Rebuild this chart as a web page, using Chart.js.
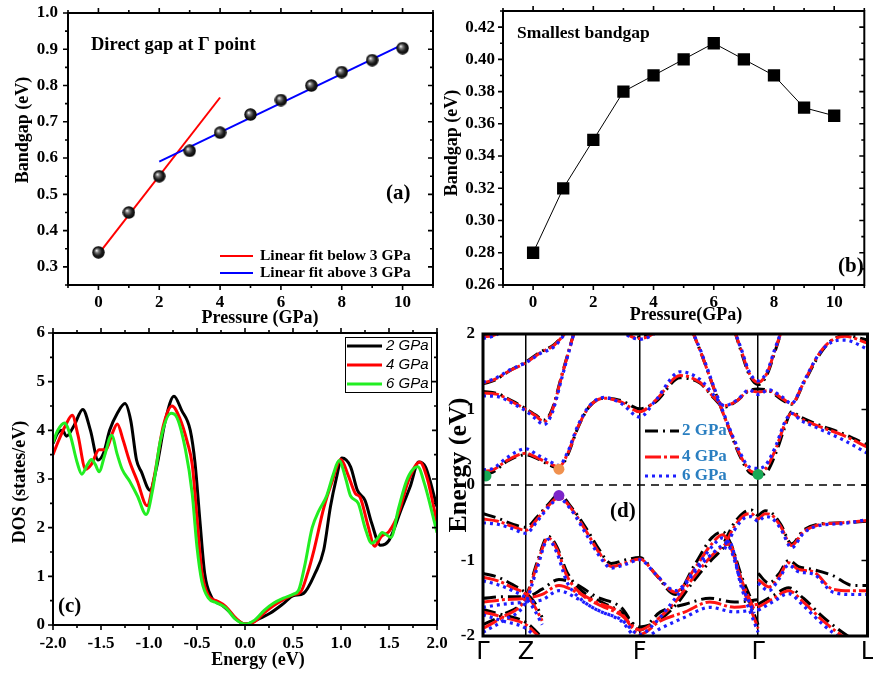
<!DOCTYPE html>
<html>
<head>
<meta charset="utf-8">
<script src="https://cdn.jsdelivr.net/npm/chart.js@4/dist/chart.umd.min.js"></script>
<style>
  html, body { margin: 0; padding: 0; background: #fff; }
  #wrap { position: relative; width: 873px; height: 675px; overflow: hidden; background: #fff; }
  #wrap canvas { position: absolute; left: 0; top: 0; }
</style>
</head>
<body>
<div id="wrap">
  <canvas id="panelA" width="873" height="675"></canvas>
  <canvas id="panelB" width="873" height="675"></canvas>
  <canvas id="panelC" width="873" height="675"></canvas>
  <canvas id="panelD" width="873" height="675"></canvas>
</div>
<script>
const SERIF = '"Liberation Serif", "Times New Roman", serif';
const SANS = '"Liberation Sans", Arial, sans-serif';
const KSANS = '"DejaVu Sans", sans-serif';

// ---- (a) direct gap at Γ versus pressure ----
const pressure = [0, 1, 2, 3, 4, 5, 6, 7, 8, 9, 10];
const directGap = [0.34, 0.45, 0.55, 0.62, 0.67, 0.72, 0.76, 0.80, 0.837, 0.87, 0.903];
const fitBelowP = [0, 4];
const fitBelowGap = [0.335, 0.767];
const fitAboveP = [2, 10];
const fitAboveGap = [0.59, 0.913];
const pressureTicks = [0, 2, 4, 6, 8, 10];
const directGapTicks = [0.3, 0.4, 0.5, 0.6, 0.7, 0.8, 0.9, 1.0];
const fitLabels = ['Linear fit below 3 GPa', 'Linear fit above 3 GPa'];

// ---- (b) smallest gap versus pressure ----
const smallestGap = [0.28, 0.32, 0.35, 0.38, 0.39, 0.40, 0.41, 0.40, 0.39, 0.37, 0.365];
const smallestGapTicks = [0.26, 0.28, 0.30, 0.32, 0.34, 0.36, 0.38, 0.40, 0.42];

// ---- (c) density of states ----
const pressureLabels = ['2 GPa', '4 GPa', '6 GPa'];
const energyTicks = [-2, -1.5, -1, -0.5, 0, 0.5, 1, 1.5, 2];
const dosTicks = [0, 1, 2, 3, 4, 5, 6];
const dosE2 = [-2.00,-1.95,-1.90,-1.86,-1.78,-1.69,-1.61,-1.53,-1.47,-1.41,-1.33,-1.25,-1.19,-1.13,-1.08,-0.99,-0.92,-0.83,-0.74,-0.66,-0.57,-0.52,-0.47,-0.42,-0.35,-0.24,-0.16,-0.08,0.00,0.08,0.16,0.26,0.40,0.50,0.61,0.73,0.82,0.89,0.95,1.01,1.10,1.17,1.25,1.32,1.41,1.50,1.63,1.72,1.81,1.88,2.00];
const dos2 = [3.73,3.95,4.00,3.88,4.10,4.43,4.00,3.39,3.55,4.00,4.35,4.55,4.20,3.39,3.15,2.77,3.25,4.20,4.70,4.41,4.00,3.32,2.15,1.06,0.58,0.41,0.27,0.10,0.02,0.06,0.14,0.24,0.44,0.60,0.65,1.06,1.54,2.43,3.00,3.43,3.25,2.77,2.56,2.09,1.64,1.74,2.39,2.84,3.35,3.25,2.43];
const dosE4 = [-2.00,-1.95,-1.87,-1.80,-1.74,-1.66,-1.60,-1.52,-1.45,-1.38,-1.33,-1.27,-1.20,-1.12,-1.02,-0.95,-0.85,-0.76,-0.68,-0.60,-0.55,-0.50,-0.45,-0.38,-0.30,-0.20,-0.10,0.00,0.10,0.20,0.30,0.40,0.50,0.58,0.65,0.72,0.82,0.90,1.00,1.07,1.15,1.20,1.28,1.35,1.42,1.50,1.60,1.70,1.82,1.90,2.00];
const dos4 = [3.50,3.75,4.10,4.31,3.90,3.20,3.30,3.60,3.60,3.95,4.13,3.80,3.35,2.95,2.45,3.00,4.10,4.50,4.25,3.75,3.30,2.20,1.10,0.60,0.50,0.38,0.15,0.02,0.07,0.25,0.40,0.52,0.62,0.68,1.05,1.55,2.40,2.90,3.40,3.10,2.70,2.62,2.05,1.62,1.82,1.92,2.30,2.95,3.35,3.00,2.10];
const dosE6 = [-2.00,-1.95,-1.88,-1.82,-1.75,-1.70,-1.64,-1.60,-1.56,-1.52,-1.46,-1.39,-1.33,-1.28,-1.20,-1.12,-1.03,-0.96,-0.88,-0.77,-0.72,-0.62,-0.55,-0.50,-0.45,-0.38,-0.30,-0.20,-0.10,0.00,0.10,0.20,0.30,0.40,0.50,0.56,0.62,0.70,0.77,0.85,0.92,0.98,1.05,1.10,1.18,1.25,1.32,1.38,1.43,1.52,1.60,1.68,1.75,1.80,1.87,1.95,2.00];
const dos6 = [3.75,4.00,4.15,3.90,3.35,3.10,3.30,3.40,3.30,3.15,3.50,3.90,3.50,3.20,2.95,2.65,2.27,2.80,3.80,4.35,4.30,3.60,2.70,1.60,0.90,0.55,0.46,0.35,0.12,0.02,0.10,0.30,0.45,0.55,0.63,0.72,1.20,2.00,2.35,2.65,3.10,3.38,3.00,2.65,2.50,2.00,1.68,1.78,1.90,1.80,2.40,2.95,3.20,3.25,2.90,2.30,1.90];

// ---- (d) band structure along Γ-Z-F-Γ-L (k as path length) ----
const kLabels = ['Γ', 'Z', 'F', 'Γ', 'L'];
const kTicks = [0, 43.5, 159, 279, 390];
const bandEnergyTicks = [-2, -1, 0, 1, 2];
const fermiK = [0, 390];
const fermiE = [0, 0];

const cb1K = [0,10,25,43.5,55,68,77,86,96,108,123,140,159,175,200,220,235,245,258,270,279,290,303,313,325,340,352,367,390];
const cb1At2 = [0.14,0.17,0.32,0.40,0.35,0.26,0.22,0.40,0.75,1.04,1.15,1.12,1.01,1.10,1.42,1.35,1.14,1.03,1.12,1.25,1.27,1.25,1.13,1.07,1.34,1.70,1.90,1.98,1.92];
const cb1At4 = [0.18,0.20,0.33,0.42,0.36,0.28,0.24,0.42,0.76,1.04,1.15,1.10,0.97,1.12,1.45,1.36,1.15,1.05,1.12,1.25,1.23,1.25,1.15,1.08,1.35,1.72,1.90,1.97,1.88];
const cb1At6 = [0.20,0.22,0.37,0.48,0.40,0.31,0.26,0.44,0.78,1.05,1.16,1.08,0.90,1.12,1.50,1.40,1.18,1.05,1.13,1.26,1.20,1.26,1.17,1.08,1.36,1.72,1.88,1.92,1.80];

const cb2K = [212,222,235,248,260,270,279,287,297,306,313,322,340,365,390];
const cb2At2 = [2.05,1.72,1.25,0.80,0.40,0.17,0.13,0.16,0.42,0.76,0.97,0.90,0.80,0.68,0.53];
const cb2At4 = [2.05,1.72,1.25,0.80,0.42,0.20,0.16,0.22,0.48,0.80,0.95,0.88,0.78,0.66,0.50];
const cb2At6 = [2.05,1.74,1.27,0.82,0.45,0.24,0.22,0.27,0.52,0.83,0.95,0.86,0.75,0.60,0.42];

const cb3K = [0,15,30,43.5,53,62,70,80,93];
const cb3At2 = [1.24,1.21,1.11,1.01,0.93,0.86,1.00,1.46,2.05];
const cb3At4 = [1.22,1.20,1.10,1.00,0.92,0.84,0.98,1.45,2.05];
const cb3At6 = [1.18,1.17,1.08,0.98,0.88,0.80,0.95,1.42,2.05];

const cb4K = [0,12,28,43.5,58,72,86];
const cb4At2 = [1.34,1.39,1.52,1.63,1.76,1.86,2.05];
const cb4At4 = [1.35,1.40,1.52,1.62,1.75,1.85,2.05];
const cb4At6 = [1.36,1.41,1.53,1.62,1.74,1.83,2.05];

const cb5K = [0,10,22];
const cb5At2 = [1.97,1.99,2.06];
const cb5At4 = [1.96,1.98,2.05];
const cb5At6 = [1.94,1.97,2.05];

const cb6K = [140,150,159,168,178];
const cb6At2 = [2.06,1.98,1.96,1.98,2.06];
const cb6At4 = [2.05,1.97,1.94,1.97,2.05];
const cb6At6 = [2.04,1.96,1.93,1.96,2.04];

const cb7K = [255,262,270,279,288,296,303];
const cb7At2 = [2.05,1.76,1.46,1.33,1.46,1.76,2.05];
const cb7At4 = [2.05,1.78,1.48,1.36,1.48,1.78,2.05];
const cb7At6 = [2.05,1.80,1.50,1.38,1.50,1.80,2.05];

const vb1K = [0,15,30,43.5,55,66,77,90,105,118,130,145,159,175,195,215,232,243,252,262,275];
const vb1At2 = [-0.38,-0.44,-0.52,-0.56,-0.42,-0.26,-0.13,-0.30,-0.58,-0.86,-1.04,-0.99,-0.96,-1.18,-1.45,-1.05,-0.70,-0.62,-0.80,-1.20,-1.60];
const vb1At4 = [-0.45,-0.48,-0.55,-0.60,-0.45,-0.28,-0.16,-0.32,-0.62,-0.90,-1.08,-1.03,-0.98,-1.18,-1.42,-1.10,-0.78,-0.66,-0.85,-1.25,-1.65];
const vb1At6 = [-0.50,-0.52,-0.58,-0.64,-0.48,-0.30,-0.18,-0.34,-0.66,-0.94,-1.10,-1.05,-0.99,-1.18,-1.40,-1.12,-0.82,-0.70,-0.88,-1.30,-1.70];

const vb2K = [245,255,265,272,279,286,293,302,313,325,340,365,390];
const vb2At2 = [-0.75,-0.50,-0.36,-0.33,-0.40,-0.34,-0.37,-0.52,-0.78,-0.60,-0.52,-0.50,-0.48];
const vb2At4 = [-0.80,-0.55,-0.40,-0.38,-0.45,-0.38,-0.40,-0.55,-0.80,-0.62,-0.53,-0.50,-0.47];
const vb2At6 = [-0.85,-0.60,-0.44,-0.42,-0.48,-0.42,-0.44,-0.58,-0.83,-0.64,-0.54,-0.51,-0.46];

const vb3K = [0,20,43.5,55,66,75,85,100,120,140,159,175,195,215,235,250,262,279];
const vb3At2 = [-1.85,-1.72,-1.48,-1.02,-0.68,-0.82,-1.15,-1.40,-1.55,-1.68,-1.88,-1.82,-1.60,-1.25,-0.95,-0.80,-1.25,-1.85];
const vb3At4 = [-1.90,-1.75,-1.50,-1.05,-0.70,-0.85,-1.20,-1.45,-1.60,-1.72,-1.92,-1.80,-1.55,-1.20,-0.90,-0.78,-1.30,-1.90];
const vb3At6 = [-1.95,-1.80,-1.55,-1.10,-0.72,-0.90,-1.28,-1.52,-1.68,-1.78,-1.98,-1.82,-1.50,-1.15,-0.88,-0.76,-1.35,-1.95];

const vb4K = [0,20,43.5,60,77,95,115,140,159,180,205,230,255,279];
const vb4At2 = [-1.50,-1.48,-1.48,-1.38,-1.25,-1.32,-1.48,-1.62,-1.92,-1.68,-1.58,-1.50,-1.55,-1.52];
const vb4At4 = [-1.55,-1.52,-1.50,-1.45,-1.33,-1.42,-1.55,-1.70,-1.98,-1.80,-1.68,-1.55,-1.62,-1.58];
const vb4At6 = [-1.62,-1.58,-1.55,-1.52,-1.40,-1.50,-1.65,-1.80,-2.05,-1.90,-1.75,-1.62,-1.68,-1.65];

const vb5K = [0,15,30,43.5,52,60];
const vb5At2 = [-1.17,-1.22,-1.32,-1.43,-1.55,-1.75];
const vb5At4 = [-1.22,-1.27,-1.36,-1.45,-1.60,-1.80];
const vb5At6 = [-1.27,-1.32,-1.40,-1.50,-1.65,-1.85];

const vb6K = [279,290,300,310,320,335,355,375,390];
const vb6At2 = [-1.17,-1.30,-1.18,-1.00,-1.08,-1.12,-1.20,-1.33,-1.33];
const vb6At4 = [-1.25,-1.35,-1.22,-1.03,-1.12,-1.15,-1.38,-1.40,-1.40];
const vb6At6 = [-1.30,-1.40,-1.25,-1.06,-1.15,-1.18,-1.42,-1.45,-1.45];

const vb7K = [279,295,310,325,345,370,390];
const vb7At2 = [-1.58,-1.46,-1.36,-1.50,-1.75,-2.00,-2.15];
const vb7At4 = [-1.62,-1.50,-1.40,-1.55,-1.80,-2.05,-2.20];
const vb7At6 = [-1.66,-1.54,-1.44,-1.60,-1.85,-2.10,-2.25];

const vb8K = [0,20,43.5,60];
const vb8At2 = [-1.65,-1.72,-1.82,-2.02];
const vb8At4 = [-1.68,-1.75,-1.85,-2.05];
const vb8At6 = [-1.72,-1.80,-1.90,-2.10];

// band edges marked on the plot
const cbmK = [3, 279];
const cbmE = [0.12, 0.14];
const cbLocalK = [77];
const cbLocalE = [0.21];
const vbmK = [77];
const vbmE = [-0.14];

// ---------- helpers ----------
const pts = (xs, ys) => xs.map((x, i) => ({ x, y: ys[i] }));

function steps(min, max, step) {
  const out = [];
  const n0 = Math.ceil(min / step - 1e-6), n1 = Math.floor(max / step + 1e-6);
  for (let n = n0; n <= n1; n++) out.push(+(n * step).toFixed(6));
  return out;
}

// frame around the plot area plus major/minor tick marks on all four sides
function axisFrame(cfg) {
  return {
    id: 'axisFrame',
    afterDraw(chart) {
      const { ctx, chartArea: a } = chart;
      const x = chart.scales.x, y = chart.scales.y;
      ctx.save();
      ctx.setLineDash([]);
      ctx.globalAlpha = 1;
      ctx.strokeStyle = '#000';
      ctx.lineWidth = cfg.tickWidth;
      const majX = x.ticks.map(t => t.value), majY = y.ticks.map(t => t.value);
      const isMaj = (arr, v) => arr.some(m => Math.abs(m - v) < 1e-6);
      const minX = cfg.xMinor ? steps(x.min, x.max, cfg.xMinor).filter(v => !isMaj(majX, v)) : [];
      const minY = cfg.yMinor ? steps(y.min, y.max, cfg.yMinor).filter(v => !isMaj(majY, v)) : [];
      const mark = (side, vals, len) => {
        const dir = cfg[side];
        if (!dir || !len) return;
        const s = dir === 'out' ? 1 : -1;
        ctx.beginPath();
        vals.forEach(v => {
          if (side === 'left' || side === 'right') {
            const py = y.getPixelForValue(v);
            if (py < a.top - 0.5 || py > a.bottom + 0.5) return;
            const x0 = side === 'left' ? a.left : a.right;
            const d = (side === 'left' ? -1 : 1) * s * len;
            ctx.moveTo(x0, py); ctx.lineTo(x0 + d, py);
          } else {
            const px = x.getPixelForValue(v);
            if (px < a.left - 0.5 || px > a.right + 0.5) return;
            const y0 = side === 'top' ? a.top : a.bottom;
            const d = (side === 'top' ? -1 : 1) * s * len;
            ctx.moveTo(px, y0); ctx.lineTo(px, y0 + d);
          }
        });
        ctx.stroke();
      };
      ['left', 'right'].forEach(sd => { mark(sd, majY, cfg.major); mark(sd, minY, cfg.minor); });
      ['top', 'bottom'].forEach(sd => { mark(sd, majX, cfg.major); mark(sd, minX, cfg.minor); });
      ctx.lineWidth = cfg.lw;
      ctx.strokeRect(a.left, a.top, a.right - a.left, a.bottom - a.top);
      ctx.restore();
    }
  };
}

// free text (axis titles, panel captions)
function notes(items) {
  return {
    id: 'notes',
    afterDraw(chart) {
      const ctx = chart.ctx;
      items.forEach(n => {
        ctx.save();
        ctx.translate(n.x, n.y);
        if (n.rot) ctx.rotate(n.rot * Math.PI / 180);
        ctx.font = n.font;
        ctx.fillStyle = n.color || '#000';
        ctx.textAlign = n.align || 'left';
        ctx.textBaseline = 'middle';
        ctx.fillText(n.text, 0, 0);
        ctx.restore();
      });
    }
  };
}

// line-sample keys
function key(cfg) {
  return {
    id: 'key',
    afterDraw(chart) {
      const ctx = chart.ctx;
      ctx.save();
      if (cfg.box) {
        ctx.strokeStyle = '#000';
        ctx.lineWidth = 1;
        ctx.strokeRect(cfg.box[0], cfg.box[1], cfg.box[2], cfg.box[3]);
      }
      cfg.items.forEach((it, i) => {
        const yy = cfg.ys ? cfg.ys[i] : cfg.y + i * cfg.dy;
        ctx.beginPath();
        ctx.setLineDash(it.dash || []);
        ctx.strokeStyle = it.color;
        ctx.lineWidth = it.width;
        ctx.lineCap = 'butt';
        ctx.moveTo(cfg.x, yy);
        ctx.lineTo(cfg.x + cfg.len, yy);
        ctx.stroke();
        ctx.setLineDash([]);
        ctx.font = cfg.font;
        ctx.fillStyle = cfg.textColor || '#000';
        ctx.textAlign = 'left';
        ctx.textBaseline = 'middle';
        ctx.fillText(it.label, cfg.x + cfg.len + cfg.gap, yy);
      });
      ctx.restore();
    }
  };
}

const tickFont = { family: SERIF, size: 17, weight: 'bold' };

function linScale(o) {
  return {
    type: 'linear',
    min: o.min,
    max: o.max,
    afterBuildTicks: s => { s.ticks = o.ticks.map(v => ({ value: v })); },
    afterFit: s => {
      if (o.width != null) s.width = o.width;
      if (o.height != null) s.height = o.height;
      s.paddingTop = 0; s.paddingBottom = 0; s.paddingLeft = 0; s.paddingRight = 0;
    },
    grid: o.grid || { display: false, drawTicks: false },
    border: { display: false },
    ticks: {
      autoSkip: false, maxRotation: 0, minRotation: 0,
      padding: o.pad, color: '#000',
      font: o.tickFont || tickFont,
      callback: o.fmt
    },
    title: { display: false }
  };
}

const baseOptions = (padding, scales) => ({
  responsive: false,
  animation: false,
  devicePixelRatio: 1,
  layout: { padding },
  scales,
  events: [],
  plugins: { legend: { display: false }, tooltip: { enabled: false } }
});

const titleFont = `bold 18px ${SERIF}`;

// shaded ball marker
function ballSprite(d) {
  const c = document.createElement('canvas');
  c.width = d; c.height = d;
  const g = c.getContext('2d');
  const r = d / 2;
  const grad = g.createRadialGradient(r * 0.7, r * 0.7, 0.3, r, r, r);
  grad.addColorStop(0, '#f2f2f2');
  grad.addColorStop(0.25, '#7a7a7a');
  grad.addColorStop(0.6, '#202020');
  grad.addColorStop(1, '#000');
  g.fillStyle = grad;
  g.beginPath(); g.arc(r, r, r - 0.3, 0, Math.PI * 2); g.fill();
  return c;
}

// ---------- (a) ----------
new Chart(document.getElementById('panelA'), {
  type: 'scatter',
  data: {
    datasets: [
      { data: pts(fitBelowP, fitBelowGap), showLine: true, borderColor: '#ff0000', borderWidth: 2, pointRadius: 0, order: 2 },
      { data: pts(fitAboveP, fitAboveGap), showLine: true, borderColor: '#0000ff', borderWidth: 2, pointRadius: 0, order: 1 },
      { data: pts(pressure, directGap), showLine: false, pointStyle: ballSprite(13), pointRadius: 6.5, order: 0 }
    ]
  },
  options: baseOptions(
    { left: 12, top: 13, right: 440, bottom: 346 },
    {
      x: linScale({ min: -1, max: 11, ticks: pressureTicks, height: 44, pad: 7, fmt: v => String(v) }),
      y: linScale({ min: 0.25, max: 1.0, ticks: directGapTicks, width: 56, pad: 10, fmt: v => v.toFixed(1) })
    }
  ),
  plugins: [
    axisFrame({ lw: 2, tickWidth: 1.6, major: 5, minor: 3, xMinor: 1, yMinor: 0.05, left: 'out', bottom: 'out', top: 'out', right: 'in' }),
    notes([
      { text: 'Bandgap (eV)', x: 23, y: 130, rot: -90, align: 'center', font: titleFont },
      { text: 'Pressure (GPa)', x: 260, y: 318, align: 'center', font: titleFont },
      { text: 'Direct gap at Γ point', x: 91, y: 45, font: `bold 18.5px ${SERIF}` },
      { text: '(a)', x: 386, y: 194, font: `bold 21px ${SERIF}` }
    ]),
    key({
      x: 220, y: 256, dy: 17, len: 33, gap: 7, font: `bold 15.5px ${SERIF}`,
      items: [
        { label: fitLabels[0], color: '#ff0000', width: 2 },
        { label: fitLabels[1], color: '#0000ff', width: 2 }
      ]
    })
  ]
});

// ---------- (b) ----------
new Chart(document.getElementById('panelB'), {
  type: 'scatter',
  data: {
    datasets: [
      { data: pts(pressure, smallestGap), showLine: true, borderColor: '#000', borderWidth: 1, tension: 0,
        pointStyle: 'rect', pointRadius: 8.7, pointBackgroundColor: '#000', pointBorderWidth: 0 }
    ]
  },
  options: baseOptions(
    { left: 441, top: 11, right: 1, bottom: 349 },
    {
      x: linScale({ min: -1, max: 11, ticks: pressureTicks, height: 41, pad: 7, fmt: v => String(v) }),
      y: linScale({ min: 0.26, max: 0.43, ticks: smallestGapTicks, width: 62, pad: 8, fmt: v => v.toFixed(2) })
    }
  ),
  plugins: [
    axisFrame({ lw: 2, tickWidth: 1.6, major: 5, minor: 3, xMinor: 1, yMinor: 0.01, left: 'out', bottom: 'out', top: 'out', right: 'in' }),
    notes([
      { text: 'Bandgap (eV)', x: 452, y: 143, rot: -90, align: 'center', font: titleFont },
      { text: 'Pressure(GPa)', x: 686, y: 315, align: 'center', font: titleFont },
      { text: 'Smallest bandgap', x: 517, y: 33, font: `bold 17.5px ${SERIF}` },
      { text: '(b)', x: 838, y: 267, font: `bold 21px ${SERIF}` }
    ])
  ]
});

// ---------- (c) ----------
const dosColors = ['#000000', '#ff0000', '#22ee22'];
new Chart(document.getElementById('panelC'), {
  type: 'scatter',
  data: {
    datasets: [
      { data: pts(dosE2, dos2), showLine: true, borderColor: dosColors[0], borderWidth: 3, pointRadius: 0, cubicInterpolationMode: 'monotone', order: 2 },
      { data: pts(dosE4, dos4), showLine: true, borderColor: dosColors[1], borderWidth: 3, pointRadius: 0, cubicInterpolationMode: 'monotone', order: 1 },
      { data: pts(dosE6, dos6), showLine: true, borderColor: dosColors[2], borderWidth: 3, pointRadius: 0, cubicInterpolationMode: 'monotone', order: 0 }
    ]
  },
  options: baseOptions(
    { left: 9, top: 333, right: 436, bottom: 4 },
    {
      x: linScale({ min: -2, max: 2, ticks: energyTicks, height: 46, pad: 8, fmt: v => v.toFixed(1) }),
      y: linScale({ min: 0, max: 6, ticks: dosTicks, width: 44, pad: 8, fmt: v => String(v) })
    }
  ),
  plugins: [
    axisFrame({ lw: 2, tickWidth: 1.6, major: 5, minor: 3, xMinor: 0.25, yMinor: 0.5, left: 'out', bottom: 'out', top: 'out', right: 'in' }),
    notes([
      { text: 'DOS (states/eV)', x: 20, y: 482, rot: -90, align: 'center', font: titleFont },
      { text: 'Energy (eV)', x: 258, y: 660, align: 'center', font: titleFont },
      { text: '(c)', x: 58, y: 607, font: `bold 21px ${SERIF}` }
    ]),
    key({
      x: 347, y: 346, dy: 19, len: 35, gap: 4, font: `italic 15px ${SANS}`,
      box: [345.5, 337.5, 86, 55],
      items: pressureLabels.map((l, i) => ({ label: l, color: dosColors[i], width: 3 }))
    })
  ]
});

// ---------- (d) ----------
const gpaStyles = [
  { color: '#000000', dash: [13, 5, 2, 5], width: 3, order: 3 },
  { color: '#ff1414', dash: [16, 3, 3, 3], width: 3, order: 2 },
  { color: '#1e1eff', dash: [3, 4], width: 3.2, order: 1 }
];
const bandSets = [
  [cb1K, cb1At2, cb1At4, cb1At6], [cb2K, cb2At2, cb2At4, cb2At6], [cb3K, cb3At2, cb3At4, cb3At6],
  [cb4K, cb4At2, cb4At4, cb4At6], [cb5K, cb5At2, cb5At4, cb5At6], [cb6K, cb6At2, cb6At4, cb6At6],
  [cb7K, cb7At2, cb7At4, cb7At6], [vb1K, vb1At2, vb1At4, vb1At6], [vb2K, vb2At2, vb2At4, vb2At6],
  [vb3K, vb3At2, vb3At4, vb3At6], [vb4K, vb4At2, vb4At4, vb4At6], [vb5K, vb5At2, vb5At4, vb5At6],
  [vb6K, vb6At2, vb6At4, vb6At6], [vb7K, vb7At2, vb7At4, vb7At6], [vb8K, vb8At2, vb8At4, vb8At6]
];
const bandDatasets = [];
bandSets.forEach(([k, e2, e4, e6]) => {
  [e2, e4, e6].forEach((e, i) => {
    const st = gpaStyles[i];
    bandDatasets.push({
      data: pts(k, e), showLine: true, borderColor: st.color, borderWidth: st.width,
      borderDash: st.dash, pointRadius: 0, cubicInterpolationMode: 'monotone', order: st.order, clip: 0
    });
  });
});
bandDatasets.push({ data: pts(fermiK, fermiE), showLine: true, borderColor: '#000', borderWidth: 1.5, borderDash: [8, 6], pointRadius: 0, order: 4, clip: 0 });
bandDatasets.push({ data: pts(cbmK, cbmE), showLine: false, pointRadius: 5.5, pointBackgroundColor: '#19a956', pointBorderWidth: 0, order: 0 });
bandDatasets.push({ data: pts(cbLocalK, cbLocalE), showLine: false, pointRadius: 5.5, pointBackgroundColor: '#f0914e', pointBorderWidth: 0, order: 0 });
bandDatasets.push({ data: pts(vbmK, vbmE), showLine: false, pointRadius: 5.5, pointBackgroundColor: '#7b25c9', pointBorderWidth: 0, order: 0 });

new Chart(document.getElementById('panelD'), {
  type: 'scatter',
  data: { datasets: bandDatasets },
  options: baseOptions(
    { left: 443, top: 334, right: 1, bottom: 0 },
    {
      x: linScale({ min: 0, max: 390, ticks: kTicks, height: 39, pad: 2,
        fmt: (v, i) => kLabels[i],
        tickFont: { family: KSANS, size: 24, weight: 'normal' },
        grid: { display: true, drawOnChartArea: true, drawTicks: false, color: '#000', lineWidth: 1.5 } }),
      y: linScale({ min: -2, max: 2, ticks: bandEnergyTicks, width: 40, pad: 8, fmt: v => String(v) })
    }
  ),
  plugins: [
    axisFrame({ lw: 3, tickWidth: 1.6, major: 6, right: 'in' }),
    notes([
      { text: 'Energy (eV)', x: 459, y: 465, rot: -90, align: 'center', font: `bold 26px ${SERIF}` },
      { text: '(d)', x: 610, y: 512, font: `bold 21px ${SERIF}` }
    ]),
    key({
      x: 645, ys: [431, 457, 476], len: 34, gap: 3, font: `bold 17px ${SERIF}`, textColor: '#2a7fc1',
      items: pressureLabels.map((l, i) => ({ label: l, color: gpaStyles[i].color, width: 3, dash: gpaStyles[i].dash }))
    })
  ]
});
</script>
</body>
</html>
